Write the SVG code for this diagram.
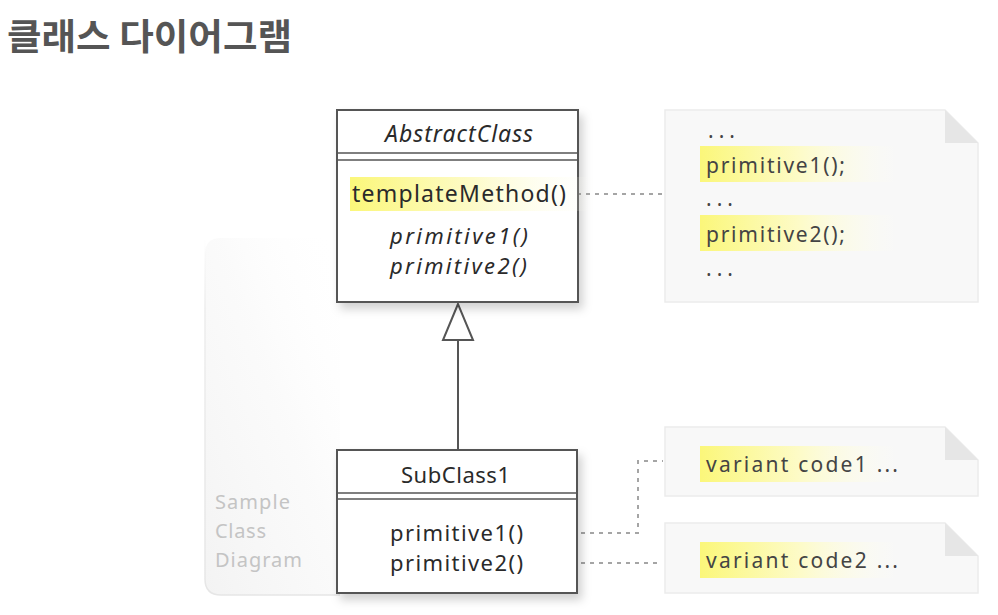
<svg xmlns="http://www.w3.org/2000/svg" width="998" height="615" viewBox="0 0 998 615">
<defs>
<style>
.t{font-family:"Noto Sans","Open Sans","Liberation Sans",sans-serif;fill:#2a2a2a}
.it{font-style:italic}
.box{fill:#fff;stroke:#555;stroke-width:2}
.sep{stroke:#555;stroke-width:1.5}
.note{fill:#f8f8f8;stroke:#ebebeb;stroke-width:1.5}
.fold{fill:#e6e6e6}
.dot{fill:none;stroke:#a5a5a5;stroke-width:2;stroke-dasharray:4 5}
.gray{font-family:"Noto Sans","Open Sans","Liberation Sans",sans-serif;fill:#c4c4c4;font-size:20px}
.nt{font-family:"Noto Sans","Open Sans","Liberation Sans",sans-serif;fill:#444;font-size:21px}
</style>
<linearGradient id="hl" x1="0" y1="0" x2="1" y2="0">
<stop offset="0" stop-color="#fbf77a"/>
<stop offset="0.5" stop-color="#fdfbc8"/>
<stop offset="1" stop-color="#fefef4" stop-opacity="0"/>
</linearGradient>
<linearGradient id="panel" x1="0" y1="1" x2="1" y2="0">
<stop offset="0" stop-color="#f3f3f3" stop-opacity="1"/>
<stop offset="0.55" stop-color="#f6f6f6" stop-opacity="0.5"/>
<stop offset="1" stop-color="#ffffff" stop-opacity="0"/>
</linearGradient>
<linearGradient id="pstroke" x1="0" y1="0" x2="0" y2="1">
<stop offset="0" stop-color="#f0f0f0" stop-opacity="0"/>
<stop offset="0.2" stop-color="#ededed"/>
<stop offset="1" stop-color="#e6e6e6"/>
</linearGradient>
<filter id="sh" x="-10%" y="-10%" width="125%" height="125%">
<feDropShadow dx="4" dy="6" stdDeviation="5" flood-color="#000" flood-opacity="0.18"/>
</filter>
</defs>
<rect width="998" height="615" fill="#fff"/>
<text x="7" y="50" font-family="'Noto Sans CJK KR',sans-serif" font-weight="bold" font-size="36" fill="#555" textLength="285" lengthAdjust="spacingAndGlyphs">클래스 다이어그램</text>

<g id="panel-bg">
<path d="M340 238 H221 Q205 238 205 254 V579 Q205 595 221 595 H340 Z" fill="url(#panel)"/>
<path d="M205 238 V579 Q205 595 221 595 H340" fill="none" stroke="url(#pstroke)" stroke-width="1.5"/>
<text class="gray" x="215" y="509" textLength="75">Sample</text>
<text class="gray" x="215" y="538" textLength="51">Class</text>
<text class="gray" x="215" y="567" textLength="87">Diagram</text>
</g>

<g id="connectors">
<line x1="458" y1="340" x2="458" y2="450" stroke="#555" stroke-width="2"/>
<polygon points="458,304 443,340 473,340" fill="#fff" stroke="#555" stroke-width="2"/>
<path class="dot" d="M568 194 H663"/>
<path class="dot" d="M527 533 H638 V461 H663"/>
<path class="dot" d="M527 563 H660"/>
</g>

<g id="AbstractClass">
<rect class="box" x="337" y="110" width="241" height="192" filter="url(#sh)"/>
<line class="sep" x1="337" y1="153" x2="578" y2="153"/>
<line class="sep" x1="337" y1="160" x2="578" y2="160"/>
<rect x="350" y="177" width="245" height="34" fill="url(#hl)"/>
<text class="t it" x="385" y="142" font-size="23" textLength="148">AbstractClass</text>
<text class="t" x="352" y="202" font-size="23" textLength="214">templateMethod()</text>
<text class="t it" x="390" y="244" font-size="22" textLength="138">primitive1()</text>
<text class="t it" x="390" y="274" font-size="22" textLength="137">primitive2()</text>
</g>

<g id="SubClass1">
<rect class="box" x="337" y="450" width="240" height="143" filter="url(#sh)"/>
<line class="sep" x1="337" y1="493" x2="577" y2="493"/>
<line class="sep" x1="337" y1="499" x2="577" y2="499"/>
<text class="t" x="401" y="483" font-size="22" textLength="109">SubClass1</text>
<text class="t" x="390" y="541" font-size="22" textLength="133">primitive1()</text>
<text class="t" x="390" y="571" font-size="22" textLength="133">primitive2()</text>
</g>

<g id="note1">
<path class="note" d="M665 110 H945 L978 143 V302 H665 Z"/>
<path class="fold" d="M945 110 L978 143 H945 Z"/>
<rect x="700" y="146" width="200" height="36" fill="url(#hl)"/>
<rect x="700" y="215" width="200" height="36" fill="url(#hl)"/>
<text class="nt" x="708" y="138" textLength="27">...</text>
<text class="nt" x="706" y="173" textLength="139">primitive1();</text>
<text class="nt" x="706" y="206" textLength="27">...</text>
<text class="nt" x="706" y="242" textLength="139">primitive2();</text>
<text class="nt" x="706" y="276" textLength="27">...</text>
</g>

<g id="note2">
<path class="note" d="M665 427 H945 L978 460 V496 H665 Z"/>
<path class="fold" d="M945 427 L978 460 H945 Z"/>
<rect x="700" y="446" width="200" height="36" fill="url(#hl)"/>
<text class="nt" x="706" y="472" textLength="192">variant code1 ...</text>
</g>

<g id="note3">
<path class="note" d="M665 523 H945 L978 556 V593 H665 Z"/>
<path class="fold" d="M945 523 L978 556 H945 Z"/>
<rect x="700" y="542" width="200" height="36" fill="url(#hl)"/>
<text class="nt" x="706" y="568" textLength="192">variant code2 ...</text>
</g>
</svg>
